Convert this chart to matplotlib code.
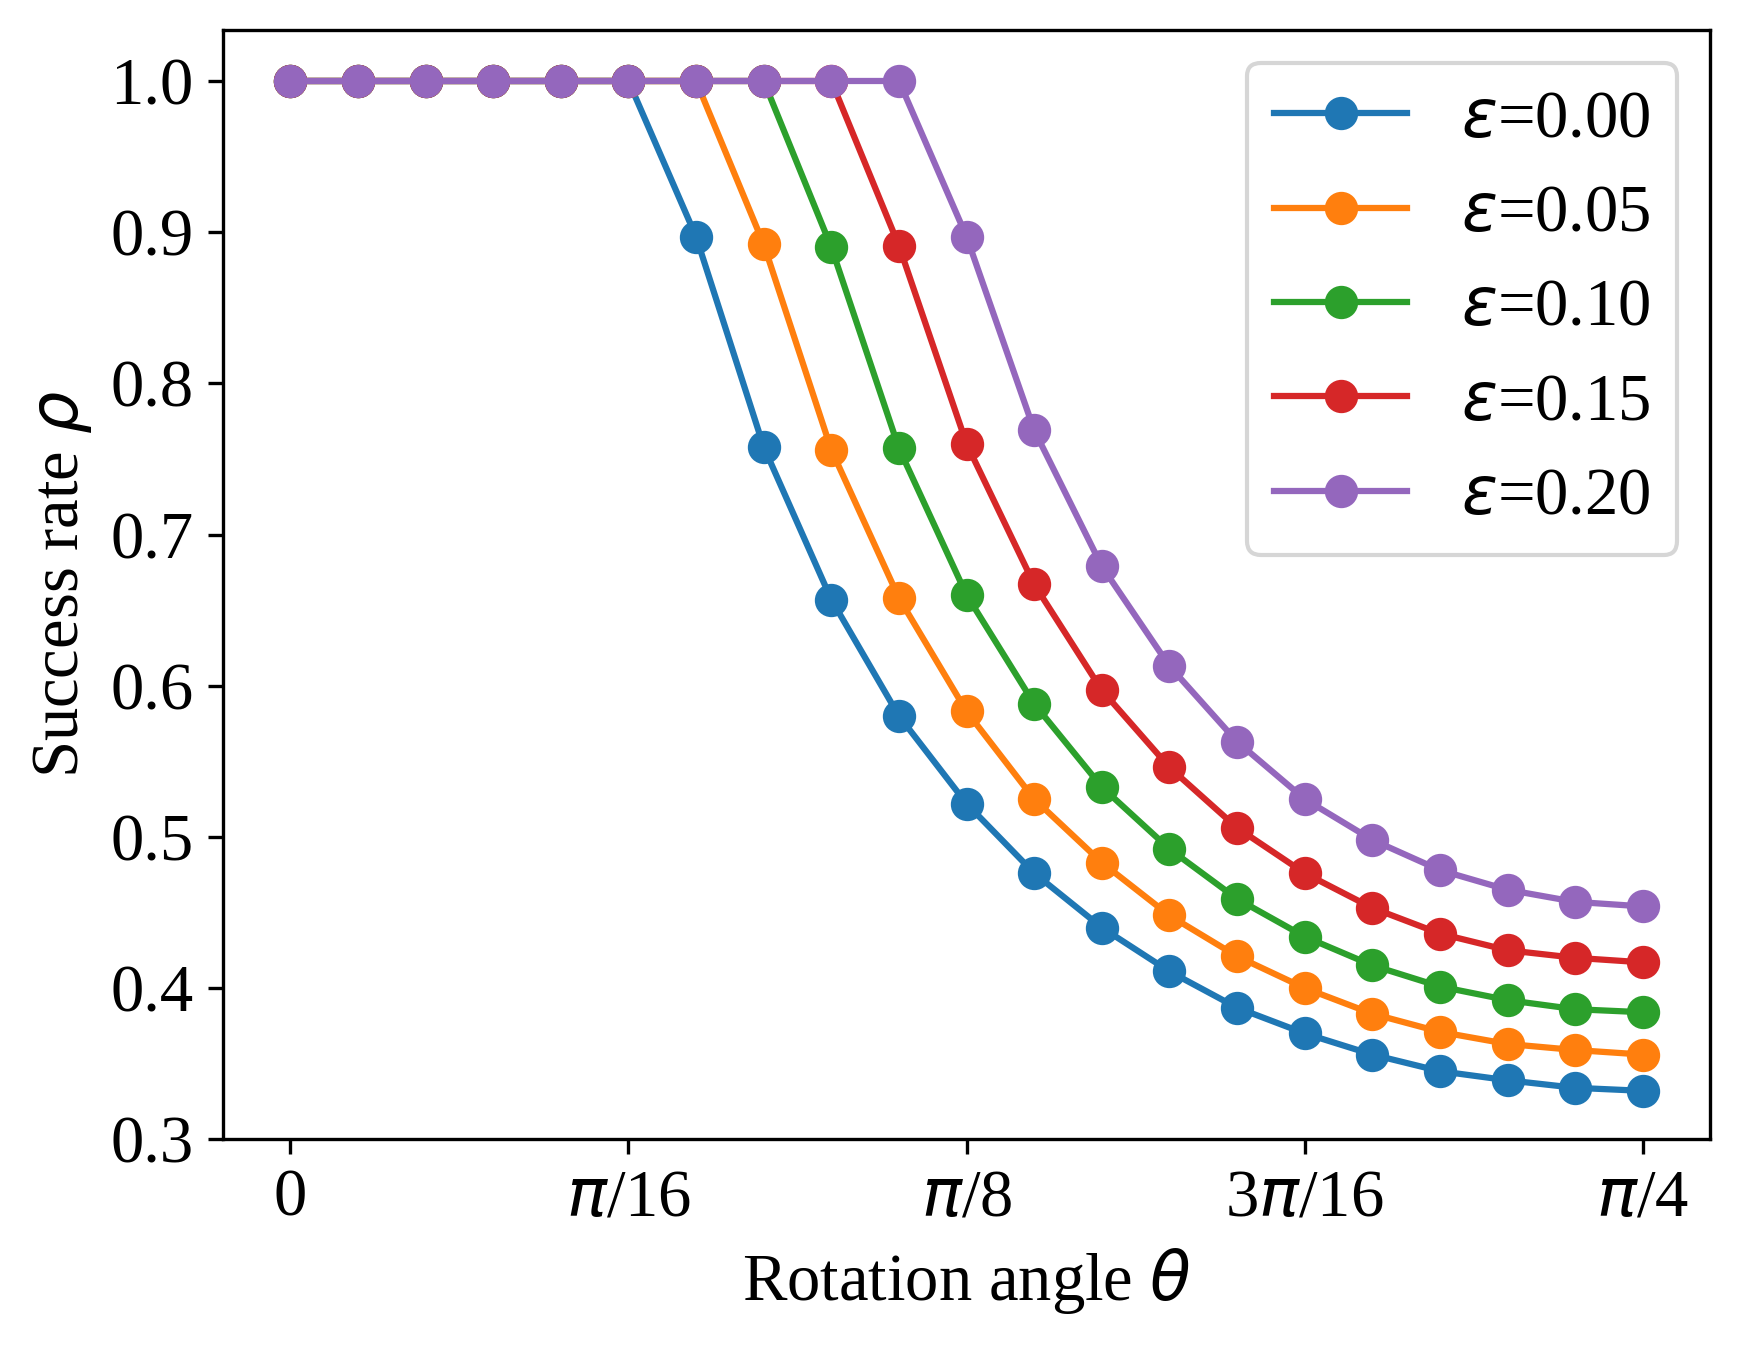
import numpy as np
import matplotlib
matplotlib.use("Agg")
import matplotlib.pyplot as plt

plt.rcParams['font.family'] = ['Liberation Serif', 'DejaVu Serif']
plt.rcParams['mathtext.fontset'] = 'dejavusans'

# puntos del angulo: 0 .. pi/4 en pasos de pi/80
theta = np.arange(21) * np.pi / 80

eps_labels = ["0.00", "0.05", "0.10", "0.15", "0.20"]

p_000 = [1, 1, 1, 1, 1, 1, 0.897, 0.758, 0.657, 0.580, 0.522, 0.476, 0.440,
         0.411, 0.387, 0.370, 0.356, 0.345, 0.339, 0.334, 0.332]
p_005 = [1, 1, 1, 1, 1, 1, 1, 0.892, 0.756, 0.658, 0.583, 0.525, 0.483,
         0.448, 0.421, 0.400, 0.383, 0.371, 0.363, 0.359, 0.356]
p_010 = [1, 1, 1, 1, 1, 1, 1, 1, 0.890, 0.757, 0.660, 0.588, 0.533,
         0.492, 0.459, 0.434, 0.415, 0.401, 0.392, 0.386, 0.384]
p_015 = [1, 1, 1, 1, 1, 1, 1, 1, 1, 0.891, 0.760, 0.667, 0.597,
         0.546, 0.506, 0.476, 0.453, 0.436, 0.425, 0.420, 0.417]
p_020 = [1, 1, 1, 1, 1, 1, 1, 1, 1, 1, 0.897, 0.769, 0.679,
         0.613, 0.563, 0.525, 0.498, 0.478, 0.465, 0.457, 0.454]

series = [p_000, p_005, p_010, p_015, p_020]

tick_pos = [0, np.pi / 16, np.pi / 8, 3 * np.pi / 16, np.pi / 4]
tick_lbl = ["0", r"$\pi$/16", r"$\pi$/8", r"3$\pi$/16", r"$\pi$/4"]

fig = plt.figure(figsize=(5.8, 1345 / 300))
ax = fig.add_axes([0.128, 0.153, 0.855, 0.825])

for eps, p in zip(eps_labels, series):
    ax.plot(theta, p, marker='o', lw=1.5, ms=7, label=r"$\varepsilon$=" + eps)

ax.set_xticks(tick_pos)
ax.set_xticklabels(tick_lbl)
ax.set_ylim(0.3, 1.034)
ax.set_yticks(np.arange(0.3, 1.01, 0.1))
ax.tick_params(labelsize=16)
ax.set_xlabel(r"Rotation angle $\theta$", fontsize=16)
ax.set_ylabel(r"Success rate $\rho$", fontsize=16)
ax.legend(fontsize=16, loc='upper right')

fig.savefig("out.png", dpi=300)
